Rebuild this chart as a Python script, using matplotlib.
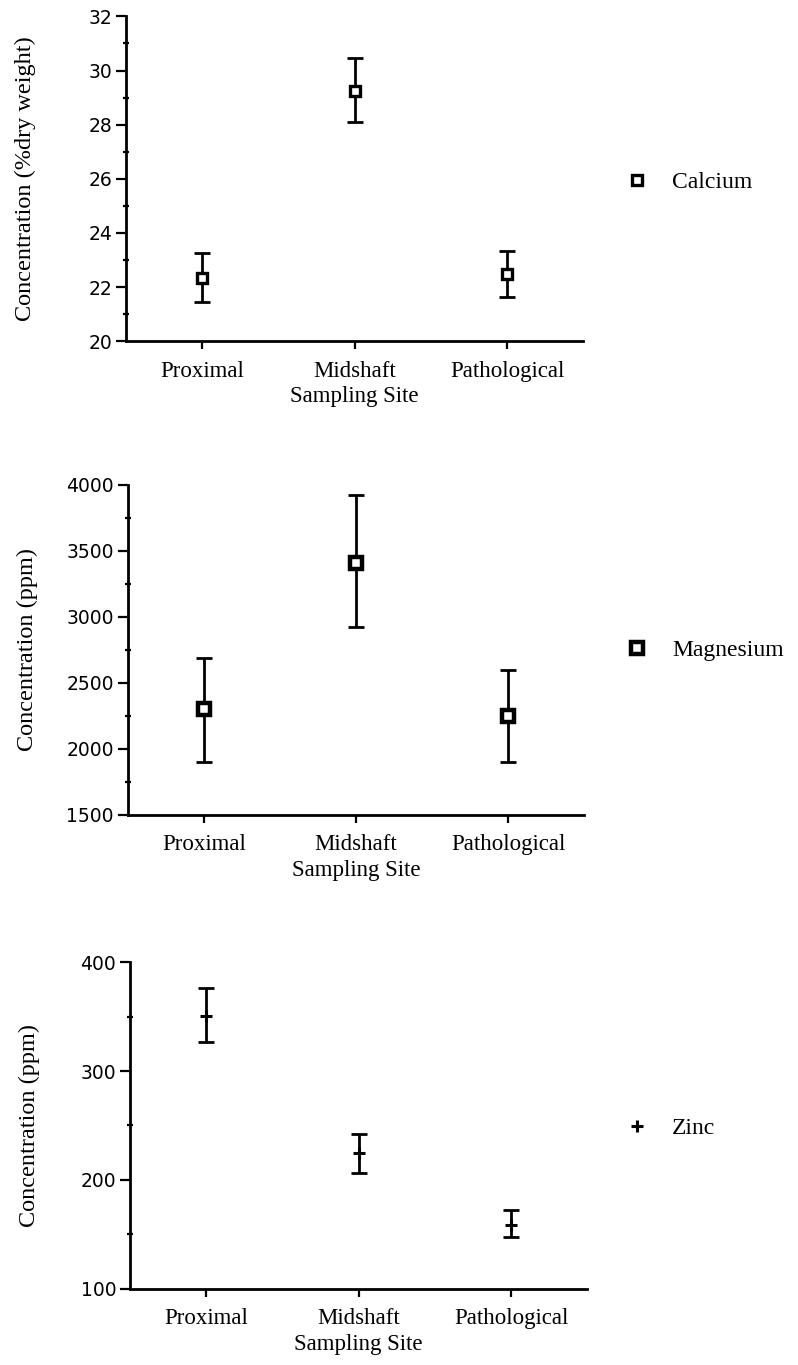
import matplotlib
matplotlib.use("Agg")
import matplotlib.pyplot as plt
from matplotlib.ticker import MultipleLocator

# data
sites = ["Proximal", "Midshaft\nSampling Site", "Pathological"]

calcium_mean = [22.35, 29.25, 22.5]
calcium_upper = [23.25, 30.45, 23.35]
calcium_lower = [21.45, 28.1, 21.65]

magnesium_mean = [2300, 3410, 2250]
magnesium_upper = [2690, 3920, 2600]
magnesium_lower = [1900, 2920, 1900]

zinc_mean = [351, 225, 158]
zinc_upper = [376, 242, 172]
zinc_lower = [327, 206, 147]

SERIF = "Liberation Serif"
SANS = "DejaVu Sans"


def draw_panel(fig, rect, mean, upper, lower, ylim, major, minor, ylabel,
               name, marker, msize, mew, legend_y):
    ax = fig.add_axes(rect)
    x = list(range(len(sites)))
    yerr = [[m - lo for m, lo in zip(mean, lower)],
            [up - m for m, up in zip(mean, upper)]]
    ax.errorbar(x, mean, yerr=yerr, fmt="none", ecolor="black",
                elinewidth=2.0, capsize=5.5, capthick=2.0)
    h, = ax.plot(x, mean, linestyle="none", marker=marker, markersize=msize,
                 markerfacecolor="white" if marker == "s" else "black",
                 markeredgecolor="black", markeredgewidth=mew)
    ax.set_xlim(-0.5, 2.5)
    ax.set_ylim(*ylim)
    ax.yaxis.set_major_locator(MultipleLocator(major))
    ax.yaxis.set_minor_locator(MultipleLocator(minor))
    ax.set_xticks(x)
    ax.set_xticklabels(sites, fontfamily=SERIF, fontsize=16.5, linespacing=1.3)
    for lab in ax.get_yticklabels():
        lab.set_fontfamily(SANS)
        lab.set_fontsize(13.5)
    ax.spines["top"].set_visible(False)
    ax.spines["right"].set_visible(False)
    ax.spines["left"].set_linewidth(2.0)
    ax.spines["bottom"].set_linewidth(2.0)
    ax.tick_params(axis="y", which="major", length=7, width=1.6, direction="out", pad=3)
    ax.tick_params(axis="y", which="minor", length=4, width=1.6, direction="inout")
    ax.tick_params(axis="x", which="major", length=6, width=1.6, direction="out", pad=8)
    ax.set_ylabel(ylabel, fontfamily=SERIF, fontsize=17.5)
    ax.yaxis.set_label_coords(-0.197, 0.5)
    fig.legend([h], [name], loc="center left", bbox_to_anchor=(0.783, legend_y),
               frameon=False, borderaxespad=0, borderpad=0,
               handletextpad=1.0, handlelength=1.0,
               prop={"family": SERIF, "size": 17})
    return ax


fig = plt.figure(figsize=(7.98, 13.65), dpi=100)

draw_panel(fig, [0.158, 0.750, 0.573, 0.238], calcium_mean, calcium_upper,
           calcium_lower, (20, 32), 2, 1, "Concentration (%dry weight)",
           "Calcium", "s", 7, 2.4, 1 - 182 / 1365)
draw_panel(fig, [0.160, 0.403, 0.572, 0.242], magnesium_mean, magnesium_upper,
           magnesium_lower, (1500, 4000), 500, 250, "Concentration (ppm)",
           "Magnesium", "s", 8, 3.2, 1 - 650 / 1365)
draw_panel(fig, [0.163, 0.056, 0.573, 0.239], zinc_mean, zinc_upper,
           zinc_lower, (100, 400), 100, 50, "Concentration (ppm)",
           "Zinc", "+", 8, 2.2, 1 - 1128 / 1365)

fig.savefig("out.png", dpi=100, facecolor="white")
